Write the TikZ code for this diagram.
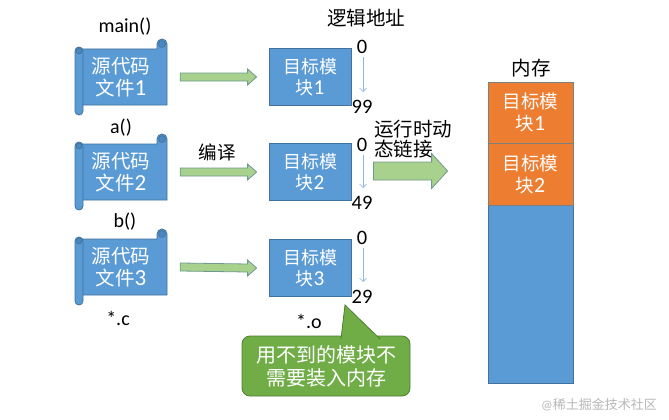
\documentclass[tikz,border=0pt]{standalone}
\usepackage{fontspec}
\setmainfont{Carlito}
\newfontfamily\cjk{Noto Sans CJK SC}
\newfontfamily\latbig{Carlito}[Scale=1.18]
\usetikzlibrary{calc,arrows.meta}
\definecolor{mblue}{HTML}{5B9BD5}
\definecolor{mblueb}{HTML}{41719C}
\definecolor{mbluedk}{HTML}{4A86C0}
\definecolor{agreen}{HTML}{A9D18E}
\definecolor{agreenb}{HTML}{6F9A8C}
\definecolor{morange}{HTML}{ED7D31}
\definecolor{morangeb}{HTML}{7F7F7F}
\definecolor{cgreen}{HTML}{70AD47}
\definecolor{cgreenb}{HTML}{507E32}
\definecolor{thinb}{HTML}{8DB8E2}
\newcommand{\zh}[1]{{\cjk #1}}
\newcommand{\dg}[1]{{\latbig #1}}
\newcommand{\fsz}[2]{\fontsize{#1pt}{#2pt}\selectfont}
\newcommand{\scrollat}[2]{%
  \begin{scope}[shift={(#1-46,#2-28)}]
    \filldraw[scrollpart] (4,0) -- (82,0) -- (82,-5)
      arc[start angle=180,end angle=360,radius=5] -- (92,56) -- (4,56) -- cycle;
    \filldraw[scrolldark] (87,-5) circle[radius=3.5];
    \filldraw[scrollpart,rounded corners=4pt] (0,-2) rectangle (8,66);
    \filldraw[scrolldark] (4,2) circle[radius=3];
  \end{scope}}
\tikzset{
  scrollpart/.style={fill=mblue,draw=mblueb,line width=0.8pt},
  scrolldark/.style={fill=mbluedk,draw=mblueb,line width=0.6pt},
  scrollslot/.style={minimum width=92pt,minimum height=56pt,inner sep=0pt,
    text=white,align=center,font=\fsz{19.5}{22}},
  module/.style={rectangle,fill=mblue,draw=mblueb,line width=0.8pt,
    minimum width=82pt,minimum height=57pt,inner sep=0pt,text=white,
    align=center,font=\fsz{18}{21}},
  memblock/.style={rectangle,fill=morange,draw=morangeb,line width=0.8pt,
    minimum width=85pt,inner sep=0pt,text=white,align=center,font=\fsz{18.5}{22}},
  memcol/.style={rectangle,fill=mblue,draw=mblueb,line width=0.8pt,
    minimum width=85pt,minimum height=301pt,inner sep=0pt},
  lbl/.style={inner sep=0pt,text=black,font=\fsz{20}{22}},
  num/.style={inner sep=0pt,text=black,font=\fsz{20.5}{22}},
  addrarrow/.style={draw=thinb,line width=0.6pt,
    -{Straight Barb[length=3.5pt,width=7pt,line width=0.6pt]}},
  fat/.style n args={3}{fill=agreen,draw=agreenb,line width=0.8pt,
    to path={($(\tikztostart)+(0,#1)$) -- ($(\tikztotarget)+(-#3,#1)$)
      -- ($(\tikztotarget)+(-#3,#2)$) -- (\tikztotarget)
      -- ($(\tikztotarget)+(-#3,-#2)$) -- ($(\tikztotarget)+(-#3,-#1)$)
      -- ($(\tikztostart)+(0,-#1)$) -- cycle}},
  callout/.style={rectangle,rounded corners=8pt,fill=cgreen,draw=cgreenb,
    line width=0.8pt,minimum width=168pt,minimum height=60pt,inner sep=0pt,
    text=white,align=center,font=\fsz{20}{23}},
  wm/.style={inner sep=0pt,text=black!28,font=\fsz{13}{15}}
}
\begin{document}
\begin{tikzpicture}[x=1pt,y=-1pt]
\useasboundingbox[fill=white] (0,0) rectangle (669,420);

% source scrolls
\scrollat{121}{77}
\node[scrollslot] (s1) at (121,77) {\zh{源代码}\\\zh{文件}\dg{1}};
\scrollat{121}{172}
\node[scrollslot] (s2) at (121,172) {\zh{源代码}\\\zh{文件}\dg{2}};
\scrollat{121}{267}
\node[scrollslot] (s3) at (121,267) {\zh{源代码}\\\zh{文件}\dg{3}};

\node[lbl] (lmain) at (125,27) {main()};
\node[lbl] (la) at (121,128) {a()};
\node[lbl] (lb) at (125,222) {b()};
\node[lbl] (lc) at (118,318) {*.c};

% modules
\node[module] (m1) at (310,77) {\zh{目标模}\\\zh{块}\dg{1}};
\node[module] (m2) at (310,172) {\zh{目标模}\\\zh{块}\dg{2}};
\node[module] (m3) at (310,268) {\zh{目标模}\\\zh{块}\dg{3}};
\node[lbl] (lo) at (309,321) {*.o};

% compile arrows
\draw[fat={4}{8}{9}] ([xshift=13pt]s1.east) to ([xshift=-12pt]m1.west);
\draw[fat={4}{8}{9}] ([xshift=13pt]s2.east) to ([xshift=-12pt]m2.west);
\draw[fat={4}{8}{9}] ([xshift=13pt]s3.east) to ([xshift=-12pt]m3.west);
\node[lbl,font=\cjk\fsz{18.5}{20}] (bianyi) at (217,152) {编译};

% logical addresses
\node[lbl,font=\cjk\fsz{19.5}{21}] (luoji) at (366,18) {逻辑地址};
\node[num] (a10) at (362,47) {0};
\node[num] (a11) at (362,107) {99};
\node[num] (a20) at (362,145) {0};
\node[num] (a21) at (362,203) {49};
\node[num] (a30) at (362,238) {0};
\node[num] (a31) at (362,297) {29};
\draw[addrarrow] ([yshift=-10pt,xshift=1pt]a10.center) -- ([yshift=15pt,xshift=1pt]a11.center);
\draw[addrarrow] ([yshift=-10pt,xshift=1pt]a20.center) -- ([yshift=15pt,xshift=1pt]a21.center);
\draw[addrarrow] ([yshift=-10pt,xshift=1pt]a30.center) -- ([yshift=15pt,xshift=1pt]a31.center);

% memory
\node[memcol] (mem) at (530.5,232.5) {};
\node[memblock,minimum height=61pt] (mem1) at (530.5,112.5) {\zh{目标模}\\\zh{块}\dg{1}};
\node[memblock,minimum height=62pt] (mem2) at (530.5,174) {\zh{目标模}\\\zh{块}\dg{2}};
\node[lbl,font=\cjk\fsz{19.5}{21}] (neicun) at (531,68) {内存};

% dynamic linking arrow
\path (mem.west |- m2.east) ++(-40,-1) coordinate (bigtip);
\draw[fat={9}{17.5}{16}] ([xshift=22pt,yshift=1pt]m2.east) to (bigtip);
\node[lbl,anchor=west,align=left,font=\cjk\fsz{19.5}{20.5}] (dyn) at (374,139) {运行时动\\态链接};

% callout
\node[callout] (note) at (326,366) {\zh{用不到的模块不}\\\zh{需要装入内存}};
\filldraw[fill=cgreen,draw=cgreenb,line width=0.8pt] (341,339) -- (345,305) -- (380,339);

% watermark
\node[wm] (wmk) at (599,405) {@\zh{稀土掘金技术社区}};
\end{tikzpicture}
\end{document}
